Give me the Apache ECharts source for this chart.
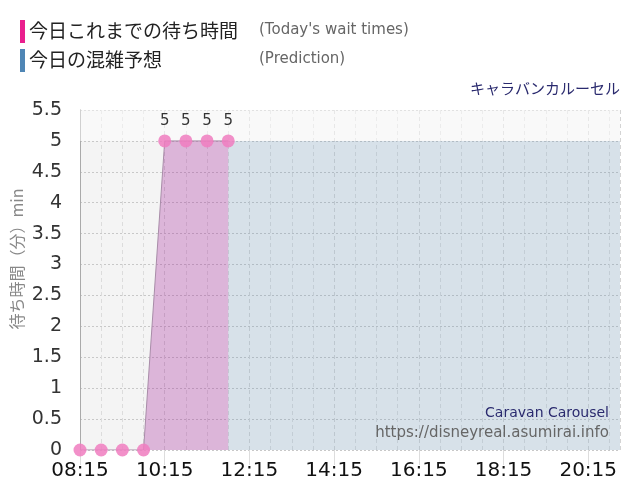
<!DOCTYPE html>
<html>
<head>
<meta charset="utf-8">
<script src="https://cdn.jsdelivr.net/npm/echarts@6/dist/echarts.min.js"></script>
<style>
  html, body { margin: 0; padding: 0; background: #fff; }
  #main { width: 640px; height: 500px; }
</style>
</head>
<body>
<div id="main"></div>
<script>
// 今日これまでの待ち時間
var waitTimes = ['08:15', '08:45', '09:15', '09:45', '10:15', '10:45', '11:15', '11:45'];
var waitValues = [0, 0, 0, 0, 5, 5, 5, 5];

// 今日の混雑予想
var predTimes = ['11:45', '12:15', '12:45', '13:15', '13:45', '14:15', '14:45', '15:15',
  '15:45', '16:15', '16:45', '17:15', '17:45', '18:15', '18:45', '19:15', '19:45',
  '20:15', '20:45', '21:00'];
var predValues = [5, 5, 5, 5, 5, 5, 5, 5, 5, 5, 5, 5, 5, 5, 5, 5, 5, 5, 5, 5];

var yTicks = [0, 0.5, 1, 1.5, 2, 2.5, 3, 3.5, 4, 4.5, 5, 5.5];
var startTime = '08:15';
var endTime = '21:00';

function toMin(t) {
  var p = t.split(':');
  return (+p[0]) * 60 + (+p[1]);
}
var base = toMin(startTime);
function toX(t) { return toMin(t) - base; }
function fmt(v) {
  var m = v + base;
  var h = Math.floor(m / 60), mm = m % 60;
  return (h < 10 ? '0' : '') + h + ':' + (mm < 10 ? '0' : '') + mm;
}

var waitData = waitTimes.map(function (t, i) { return [toX(t), waitValues[i]]; });
var predData = predTimes.map(function (t, i) { return [toX(t), predValues[i]]; });

var chart = echarts.init(document.getElementById('main'));

chart.setOption({
  backgroundColor: '#fff',
  animation: false,
  grid: {
    left: 80,
    right: 20,
    top: 110,
    bottom: 50,
    show: true,
    backgroundColor: '#f4f4f4',
    borderWidth: 0
  },
  graphic: [
    // 凡例
    { type: 'rect', left: 20, top: 20, shape: { width: 5, height: 23 }, style: { fill: '#ea1f8e' } },
    { type: 'text', left: 29, top: 21, style: { text: '今日これまでの待ち時間', fontSize: 19, fill: '#222', fontFamily: 'Noto Sans CJK JP' } },
    { type: 'text', left: 259, top: 23, style: { text: "(Today's wait times)", fontSize: 15, fill: '#666', fontFamily: 'DejaVu Sans' } },
    { type: 'rect', left: 20, top: 49, shape: { width: 5, height: 23 }, style: { fill: '#4f86b5' } },
    { type: 'text', left: 29, top: 50, style: { text: '今日の混雑予想', fontSize: 19, fill: '#222', fontFamily: 'Noto Sans CJK JP' } },
    { type: 'text', left: 259, top: 52, style: { text: '(Prediction)', fontSize: 15, fill: '#666', fontFamily: 'DejaVu Sans' } },
    // タイトル
    { type: 'text', right: 20, top: 81, style: { text: 'キャラバンカルーセル', fontSize: 15, fill: '#2a2a6e', fontFamily: 'Noto Sans CJK JP' } },
    // y軸名
    {
      type: 'text', x: 17, y: 259, rotation: Math.PI / 2,
      style: { text: '待ち時間（分）min', fontSize: 16, fill: '#888', fontFamily: 'Noto Sans CJK JP', align: 'center', verticalAlign: 'middle' }
    },
    // 透かし
    { type: 'text', right: 31, top: 406, z: 10, style: { text: 'Caravan Carousel', fontSize: 14, fill: '#2a2a6e', fontFamily: 'DejaVu Sans' } },
    { type: 'text', right: 31, top: 426, z: 10, style: { text: 'https://disneyreal.asumirai.info', fontSize: 15, fill: '#666', fontFamily: 'DejaVu Sans' } }
  ],
  xAxis: {
    type: 'value',
    min: 0,
    max: toX(endTime),
    interval: 120,
    axisLine: { show: false },
    axisTick: { show: true, length: 15, lineStyle: { color: '#ddd' } },
    axisLabel: {
      formatter: fmt,
      fontSize: 20,
      color: '#111',
      margin: 11,
      showMaxLabel: false,
      fontFamily: 'DejaVu Sans'
    },
    splitLine: { show: true, lineStyle: { color: '#d4d4d4', type: [4, 3] } },
    minorTick: { show: false, splitNumber: 4 },
    minorSplitLine: { show: true, lineStyle: { color: '#dcdcdc', type: [4, 3] } }
  },
  yAxis: {
    type: 'value',
    min: yTicks[0],
    max: yTicks[yTicks.length - 1],
    interval: 0.5,
    axisLine: { show: true, lineStyle: { color: '#aaa' } },
    axisTick: { show: false },
    axisLabel: { fontSize: 19, color: '#333', margin: 18, fontFamily: 'DejaVu Sans' },
    splitLine: { show: true, lineStyle: { color: '#c8c8c8', type: [2, 2] } }
  },
  series: [
    {
      name: '今日の混雑予想',
      type: 'line',
      data: predData,
      symbol: 'none',
      lineStyle: { width: 0 },
      areaStyle: { color: 'rgba(70,130,180,0.16)', opacity: 1 },
      markArea: {
        silent: true,
        itemStyle: { color: 'rgba(255,255,255,0.45)' },
        data: [[{ yAxis: 5 }, { yAxis: 5.5 }]]
      },
      z: 1
    },
    {
      name: '今日これまでの待ち時間',
      type: 'line',
      data: waitData,
      symbol: 'circle',
      symbolSize: 13,
      itemStyle: { color: '#f07cbf', opacity: 0.85 },
      lineStyle: { color: '#a88ca8', width: 1 },
      areaStyle: { color: 'rgba(164,37,154,0.3)', opacity: 1 },
      label: {
        show: true,
        position: 'top',
        distance: 6,
        fontSize: 15,
        color: '#111',
        fontFamily: 'DejaVu Sans',
        formatter: function (p) { return p.value[1] > 0 ? p.value[1] : ''; }
      },
      z: 3
    }
  ]
});
</script>
</body>
</html>
